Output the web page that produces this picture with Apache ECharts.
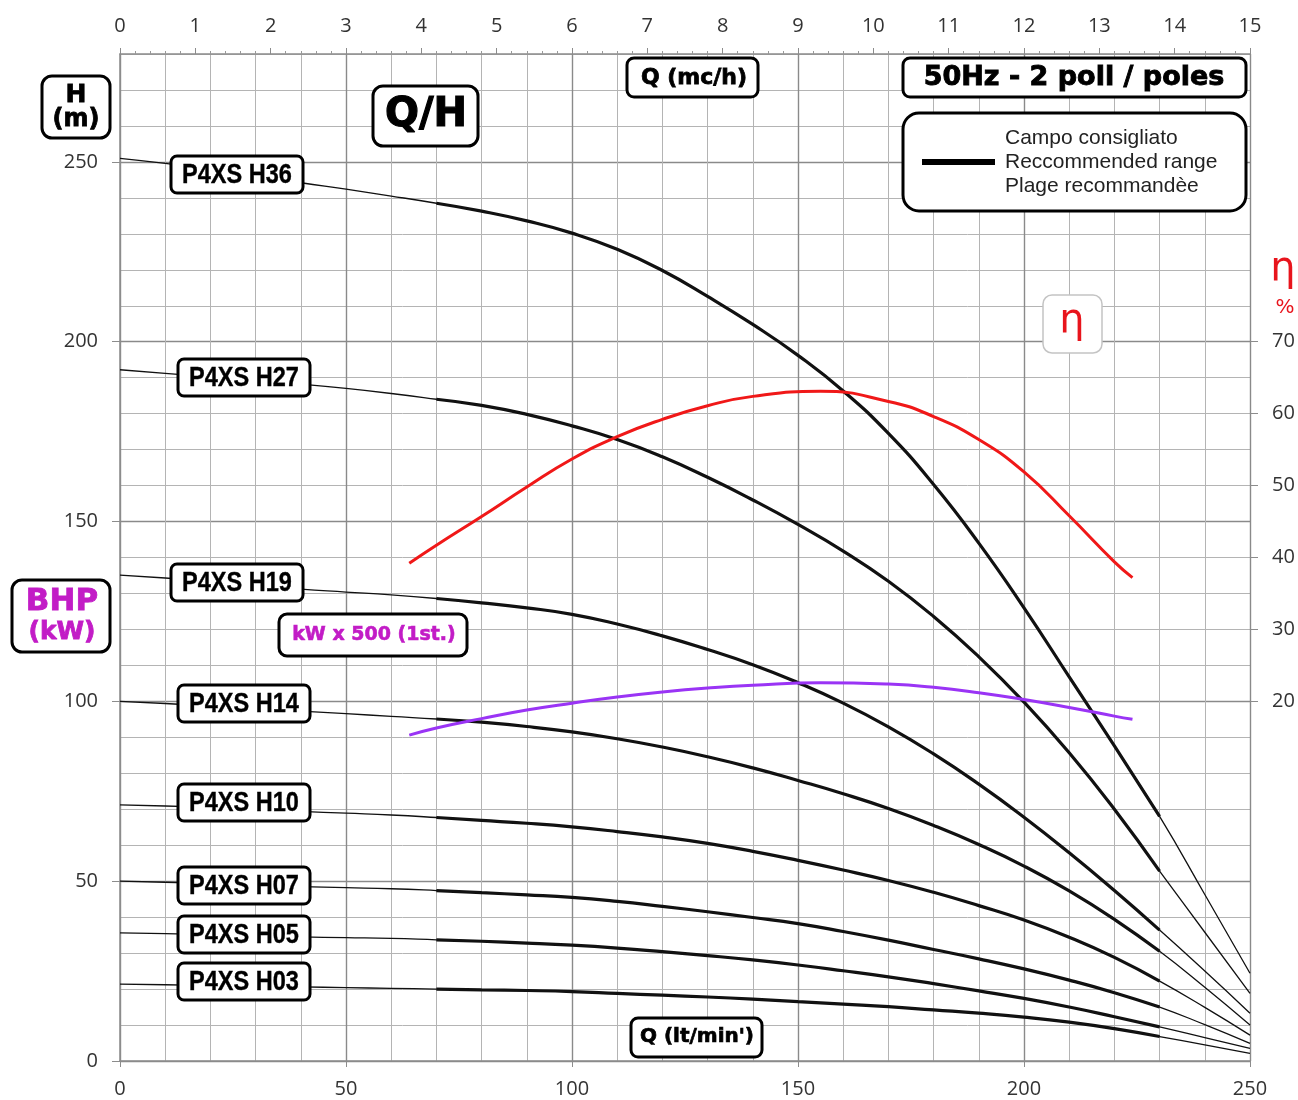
<!DOCTYPE html>
<html><head><meta charset="utf-8">
<script src="https://cdn.jsdelivr.net/npm/echarts@6/dist/echarts.min.js"></script>
<style>html,body{margin:0;padding:0;background:#fff}#c{width:1298px;height:1100px}</style>
</head><body><div id="c"></div>
<script>
// ---- data ----
const flowLpm = [0,10,20,30,40,50,60,70,80,90,100,110,120,130,140,150,160,170,180,190,200,210,220,230,240,250];
const headH36 = [251,249.6,248,246.2,244.2,242.4,240.5,238.5,236.3,233.6,230.2,225.7,219.8,212.6,204.8,196.2,186.3,174.5,160.3,144,126,106.8,87.6,68,46.3,24.4];
const headH27 = [192.2,191.2,190.2,189.2,188.2,187,185.6,184,182.3,179.8,176.6,172.8,168,162.3,156,149.2,141.8,133.4,123.6,112.4,99.8,85.7,70,52.8,35.8,18.8];
const headH19 = [135.1,134.3,133.4,132.4,131.2,130.4,129.6,128.6,127.4,126,124.2,121.5,118.2,114.4,110.2,105.2,99.5,92.9,85.4,77,67.8,57.9,47.4,36.4,25,13.3];
const headH14 = [100,99.4,98.7,98,97.3,96.6,95.8,95.1,94.2,93,91.5,89.6,87.3,84.6,81.5,78,74.3,70.2,65.5,60.2,54.2,47.3,39.4,30.5,20.5,10];
const headH10 = [71.2,70.9,70.5,70,69.4,68.9,68.4,67.7,66.9,66.1,65.1,63.8,62.3,60.5,58.3,55.8,53.1,50.2,46.9,43.2,39.2,34.4,28.8,22.2,14.9,7.2];
const headH07 = [50,49.7,49.3,48.9,48.5,48.2,47.9,47.4,46.8,46.2,45.5,44.4,43,41.5,39.9,38.2,36,33.6,31,28.4,25.6,22.5,19,15,10.1,4.9];
const headH05 = [35.6,35.4,35.1,34.8,34.5,34.3,34.1,33.7,33.3,32.8,32.2,31.4,30.4,29.3,28.1,26.7,25.1,23.4,21.5,19.5,17.4,15,12.3,9.5,6.5,3.5];
const headH03 = [21.4,21.2,21,20.8,20.6,20.4,20.2,20,19.8,19.6,19.3,18.8,18.3,17.8,17.2,16.5,15.8,15.1,14.2,13.3,12.2,10.8,9,6.8,4.5,2.1];
const curveNames = ['P4XS H36','P4XS H27','P4XS H19','P4XS H14','P4XS H10','P4XS H07','P4XS H05','P4XS H03'];
const rangeFrom = 70, rangeTo = 230; // recommended range (lt/min)

const effFlow = [64,70,80,90,100,110,120,130,140,155,170,180,190,200,210,220,224];
const effPct  = [39.2,41.7,45.7,49.8,53.7,56.8,59.2,61.1,62.4,63.1,61.7,59.6,56.4,51.9,45.8,39.4,37.2];
const bhpFlow = [64,70,80,90,100,110,120,130,140,155,170,180,190,200,210,220,224];
const bhpKwX500 = [90.6,92.6,95.2,97.6,99.5,101.2,102.6,103.7,104.5,105.2,104.8,103.9,102.4,100.5,98.3,95.9,95.0];

const bottomTickValues = [0,50,100,150,200,250];
const leftTickValues = [0,50,100,150,200,250];
const rightTickValues = [20,30,40,50,60,70];
const topTickLabels = [0,1,2,3,4,5,6,7,8,9,10,11,12,13,14,15];

// ---- chart ----
const chart = echarts.init(document.getElementById('c'), null, {renderer:'canvas'});
const heads = [headH36, headH27, headH19, headH14, headH10, headH07, headH05, headH03];
const smoothK = 0.5;
const series = [];
heads.forEach((h, i) => {
  const pts = flowLpm.map((q, j) => [q, h[j]]);
  series.push({type:'line', name:curveNames[i], data:pts, smooth:smoothK, symbol:'none', silent:true,
    xAxisIndex:0, yAxisIndex:0, lineStyle:{color:'#111', width:1.3}, z:3});
  series.push({type:'line', name:curveNames[i]+' range', data:pts.filter(p => p[0] >= rangeFrom && p[0] <= rangeTo),
    smooth:smoothK, symbol:'none', silent:true, xAxisIndex:0, yAxisIndex:0, lineStyle:{color:'#111', width:3.2}, z:4});
});
series.push({type:'line', name:'eta', data:effFlow.map((q,j)=>[q, effPct[j]]), smooth:smoothK, symbol:'none', silent:true,
  xAxisIndex:0, yAxisIndex:2, lineStyle:{color:'#f01818', width:3}, z:5});
series.push({type:'line', name:'bhp', data:bhpFlow.map((q,j)=>[q, bhpKwX500[j]]), smooth:smoothK, symbol:'none', silent:true,
  xAxisIndex:0, yAxisIndex:0, lineStyle:{color:'#9a34f5', width:3}, z:5});

const labelFont = '"Open Sans", "Noto Sans", sans-serif';
const wideBold = '"DejaVu Sans", sans-serif';

function box(x, y, w, h, r, lw, stroke) {
  return {type:'rect', shape:{x, y, width:w, height:h, r}, style:{fill:'#fff', stroke: stroke || '#000', lineWidth: lw}, z:100};
}
function txt(x, y, text, font, fill, align, heavy, sx) {
  const a = align || 'center';
  const st = {text, font, fill: fill || '#000', align:a, textAlign:a, verticalAlign:'middle', textVerticalAlign:'middle', textBaseline:'middle'};
  if (heavy) { st.stroke = fill || '#000'; st.lineWidth = heavy; }
  const el = {type:'text', x, y, style:st, z:101};
  if (sx) { el.scaleX = sx; }
  return el;
}
const magenta = '#c21cc6';
const graphics = [
  box(42, 76, 68, 62, 10, 3), txt(76, 95, 'H', 'bold 25px ' + wideBold, '#000', 'center', 0.8), txt(76, 120, '(m)', 'bold 24px ' + wideBold, '#000', 'center', 0.8),
  box(373, 86, 105, 60, 10, 3), txt(426, 116, 'Q/H', 'bold 40px ' + wideBold, '#000', 'center', 1.2),
  box(627, 58, 131, 39, 7, 3), txt(694, 78, 'Q (mc/h)', 'bold 22px ' + wideBold, '#000', 'center', 0.8),
  box(903, 58, 343, 39, 7, 3), txt(1074, 78, '50Hz - 2 poll / poles', 'bold 27px ' + wideBold, '#000', 'center', 0.9),
  box(903, 113, 343, 98, 16, 3),
  {type:'line', shape:{x1:922, y1:162, x2:995, y2:162}, style:{stroke:'#000', lineWidth:6}, z:101},
  txt(1005, 138, 'Campo consigliato', '21px "Liberation Sans", Arial, sans-serif', '#222', 'left'),
  txt(1005, 162, 'Reccommended range', '21px "Liberation Sans", Arial, sans-serif', '#222', 'left'),
  txt(1005, 186, 'Plage recommandèe', '21px "Liberation Sans", Arial, sans-serif', '#222', 'left'),
  box(1043, 295, 59, 58, 9, 1.5, '#c4c4c4'), txt(1072, 322, 'η', '40px "DejaVu Sans", sans-serif', '#e8141c'),
  txt(1283, 270, 'η', '40px "DejaVu Sans", sans-serif', '#e8141c'),
  txt(1285, 308, '%', '20px "DejaVu Sans", sans-serif', '#e8141c'),
  box(12, 580, 98, 72, 10, 3), txt(62, 602, 'BHP', 'bold 31px ' + wideBold, magenta, 'center', 0.8), txt(62, 632, '(kW)', 'bold 25px ' + wideBold, magenta, 'center', 0.8),
  box(279, 614, 188, 42, 8, 3), txt(374, 635, 'kW x 500 (1st.)', 'bold 19px ' + wideBold, magenta, 'center', 0.6),
  box(631, 1018, 131, 39, 7, 3), txt(697, 1037, "Q (lt/min')", 'bold 20px ' + wideBold, '#000', 'center', 0.7)
];
const curveLabelBoxes = [[171,156],[178,359],[171,564],[178,685],[178,784],[178,867],[178,916],[178,963]];
const narrowBold = 'bold 28px "Liberation Sans", Arial, sans-serif';
curveLabelBoxes.forEach((p, i) => {
  graphics.push(box(p[0], p[1], 132, 37, 6, 3));
  graphics.push(txt(p[0] + 66, p[1] + 19, curveNames[i], narrowBold, '#000', 'center', 0.4, 0.84));
});

const option = {
  animation:false,
  backgroundColor:'#fff',
  grid:{left:120, right:48, top:54, bottom:39, containLabel:false},
  xAxis:[
    {type:'value', min:0, max:250, interval:10, position:'bottom', axisLine:{show:false, onZero:false}, axisTick:{show:false}, axisLabel:{show:false},
     splitLine:{show:true, lineStyle:{color:'#b4b4b4', width:1}}},
    {type:'value', min:0, max:250, interval:50, position:'bottom',
     axisLine:{show:true, onZero:false, lineStyle:{color:'#8c8c8c', width:1.5}},
     axisTick:{show:true, length:6, lineStyle:{color:'#8c8c8c'}, customValues:bottomTickValues},
     axisLabel:{show:true, margin:18, fontSize:20, color:'#333', fontFamily:labelFont, customValues:bottomTickValues},
     splitLine:{show:true, lineStyle:{color:'#8a8a8a', width:1.4}}},
    {type:'value', min:0, max:15, interval:1, position:'top',
     axisLine:{show:true, onZero:false, lineStyle:{color:'#8c8c8c', width:1.5}},
     axisTick:{show:true, length:6, lineStyle:{color:'#8c8c8c'}},
     minorTick:{show:true, splitNumber:5, length:3, lineStyle:{color:'#999'}},
     axisLabel:{show:true, margin:18, fontSize:20, color:'#333', fontFamily:labelFont, customValues:topTickLabels},
     splitLine:{show:false}}
  ],
  yAxis:[
    {type:'value', min:0, max:280, interval:10, position:'left', axisLine:{show:false, onZero:false}, axisTick:{show:false}, axisLabel:{show:false},
     splitLine:{show:true, lineStyle:{color:'#b4b4b4', width:1}}},
    {type:'value', min:0, max:280, interval:50, position:'left',
     axisLine:{show:true, onZero:false, lineStyle:{color:'#8c8c8c', width:1.5}},
     axisTick:{show:true, length:8, lineStyle:{color:'#8c8c8c'}, customValues:leftTickValues},
     axisLabel:{show:true, margin:22, fontSize:20, color:'#333', fontFamily:labelFont, customValues:leftTickValues,
       formatter: v => (v <= 250 ? String(v) : '')},
     splitLine:{show:true, lineStyle:{color:'#8a8a8a', width:1.4}}},
    {type:'value', min:-30, max:110, interval:10, position:'right',
     axisLine:{show:false, onZero:false},
     axisTick:{show:true, length:8, lineStyle:{color:'#8c8c8c'}, customValues:rightTickValues},
     axisLabel:{show:true, margin:22, fontSize:20, color:'#333', fontFamily:labelFont, customValues:rightTickValues,
       formatter: v => (v >= 20 && v <= 70 ? String(v) : '')},
     splitLine:{show:false}}
  ],
  series,
  graphic:{elements:graphics}
};
chart.setOption(option);
</script>
</body></html>
